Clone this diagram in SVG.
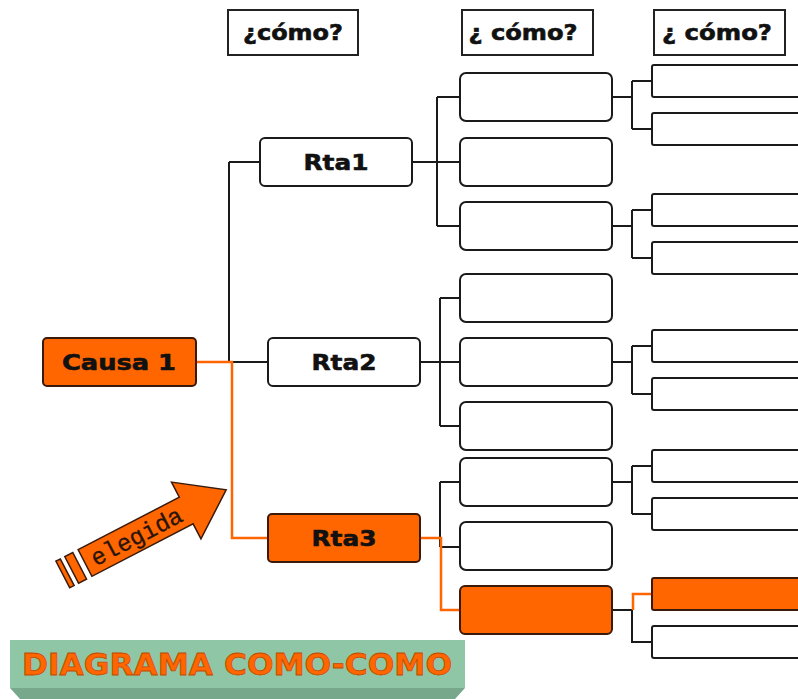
<svg xmlns="http://www.w3.org/2000/svg" width="798" height="699" viewBox="0 0 798 699">
<defs>
<style>
.hd{fill:#fff;stroke:#222;stroke-width:2}
.n{fill:#fff;stroke:#1a1a1a;stroke-width:2}
.no{fill:#ff6600;stroke:#3a1a0a;stroke-width:2}
.c{fill:none;stroke:#1a1a1a;stroke-width:2}
.o{fill:none;stroke:#ff6600;stroke-width:2.5}
.t{font-family:"DejaVu Sans","Liberation Sans",sans-serif;font-weight:bold;font-size:22px;fill:#111;text-anchor:middle;stroke:#111;stroke-width:0.6}
</style>
</defs>
<rect width="798" height="699" fill="#fff"/>

<g id="headers">
<g id="h1"><rect class="hd" x="228" y="10" width="130" height="45"/><text class="t" x="293" y="40" textLength="100" lengthAdjust="spacingAndGlyphs">¿cómo?</text></g>
<g id="h2"><rect class="hd" x="462" y="10" width="131" height="45"/><text class="t" x="523" y="40" textLength="109" lengthAdjust="spacingAndGlyphs">¿ cómo?</text></g>
<g id="h3"><rect class="hd" x="654" y="10" width="131" height="45"/><text class="t" x="717" y="40" textLength="110" lengthAdjust="spacingAndGlyphs">¿ cómo?</text></g>
</g>

<g id="connectors">
<path class="c" d="M229 162V362M229 162H260M232 362H268"/>
<path class="c" d="M412 162H437M437 97V226M437 97H460M437 162H460M437 226H460"/>
<path class="c" d="M420 362H460M440 298V426M440 298H460M440 426H460"/>
<path class="c" d="M440 482V547M440 482H460M440 547H460"/>
<path class="c" d="M612 97H632M632 81V129M632 81H652M632 129H652"/>
<path class="c" d="M612 226H632M632 210V258M632 210H652M632 258H652"/>
<path class="c" d="M612 362H632M632 346V394M632 346H652M632 394H652"/>
<path class="c" d="M612 482H632M632 466V514M632 466H652M632 514H652"/>
<path class="c" d="M612 610H632M632 610V642H652"/>
<path class="o" d="M196 362H232V538H268"/>
<path class="o" d="M420 538H441V610H460"/>
<path class="o" d="M633 610V594H652"/>
</g>

<g id="causa1"><rect class="no" x="43" y="338" width="153" height="48" rx="4"/><text class="t" x="119" y="370" textLength="114" lengthAdjust="spacingAndGlyphs">Causa 1</text></g>
<g id="rta1"><rect class="n" x="260" y="138" width="152" height="48" rx="5"/><text class="t" x="336" y="170" textLength="65" lengthAdjust="spacingAndGlyphs">Rta1</text></g>
<g id="rta2"><rect class="n" x="268" y="338" width="152" height="48" rx="5"/><text class="t" x="344" y="370" textLength="65" lengthAdjust="spacingAndGlyphs">Rta2</text></g>
<g id="rta3"><rect class="no" x="268" y="514" width="152" height="48" rx="4"/><text class="t" x="344" y="546" textLength="65" lengthAdjust="spacingAndGlyphs">Rta3</text></g>

<g id="l2">
<g id="b1"><rect class="n" x="460" y="73" width="152" height="48" rx="6"/></g>
<g id="b2"><rect class="n" x="460" y="138" width="152" height="48" rx="6"/></g>
<g id="b3"><rect class="n" x="460" y="202" width="152" height="48" rx="6"/></g>
<g id="b4"><rect class="n" x="460" y="274" width="152" height="48" rx="6"/></g>
<g id="b5"><rect class="n" x="460" y="338" width="152" height="48" rx="6"/></g>
<g id="b6"><rect class="n" x="460" y="402" width="152" height="48" rx="6"/></g>
<g id="b7"><rect class="n" x="460" y="458" width="152" height="48" rx="6"/></g>
<g id="b8"><rect class="n" x="460" y="522" width="152" height="48" rx="6"/></g>
<g id="b9"><rect class="no" x="460" y="586" width="152" height="48" rx="5"/></g>
</g>

<g id="l3">
<g id="c1"><rect class="n" x="652" y="65" width="160" height="32" rx="2"/></g>
<g id="c2"><rect class="n" x="652" y="113" width="160" height="32" rx="2"/></g>
<g id="c3"><rect class="n" x="652" y="194" width="160" height="32" rx="2"/></g>
<g id="c4"><rect class="n" x="652" y="242" width="160" height="32" rx="2"/></g>
<g id="c5"><rect class="n" x="652" y="330" width="160" height="32" rx="2"/></g>
<g id="c6"><rect class="n" x="652" y="378" width="160" height="32" rx="2"/></g>
<g id="c7"><rect class="n" x="652" y="450" width="160" height="32" rx="2"/></g>
<g id="c8"><rect class="n" x="652" y="498" width="160" height="32" rx="2"/></g>
<g id="c9"><rect class="no" x="652" y="578" width="160" height="32" rx="2"/></g>
<g id="c10"><rect class="n" x="652" y="626" width="160" height="32" rx="2"/></g>
</g>

<g id="elegida" transform="translate(85,563) rotate(-27.4)">
<rect x="-25" y="-15" width="5" height="30" fill="#ff6600" stroke="#3a1a0a" stroke-width="1.5"/>
<rect x="-15" y="-15" width="9" height="30" fill="#ff6600" stroke="#3a1a0a" stroke-width="1.5"/>
<path d="M0 -15H114V-32L159 0L114 32V15H0Z" fill="#ff6600" stroke="#3a1a0a" stroke-width="1.5"/>
<text x="58" y="8" font-family="Liberation Mono, monospace" font-size="24" fill="#2a140a" stroke="#2a140a" stroke-width="0.3" text-anchor="middle" textLength="100" lengthAdjust="spacingAndGlyphs">elegida</text>
</g>

<g id="title">
<rect x="10" y="640" width="455" height="48" fill="#8fc7a6"/>
<polygon points="10,688 465,688 455,699 20,699" fill="#78a88c"/>
<text x="237" y="675" font-family="DejaVu Sans, Liberation Sans, sans-serif" font-weight="bold" font-size="31" fill="#ff6600" stroke="#c04a00" stroke-width="0.8" text-anchor="middle" textLength="430" lengthAdjust="spacingAndGlyphs">DIAGRAMA COMO-COMO</text>
</g>
</svg>
